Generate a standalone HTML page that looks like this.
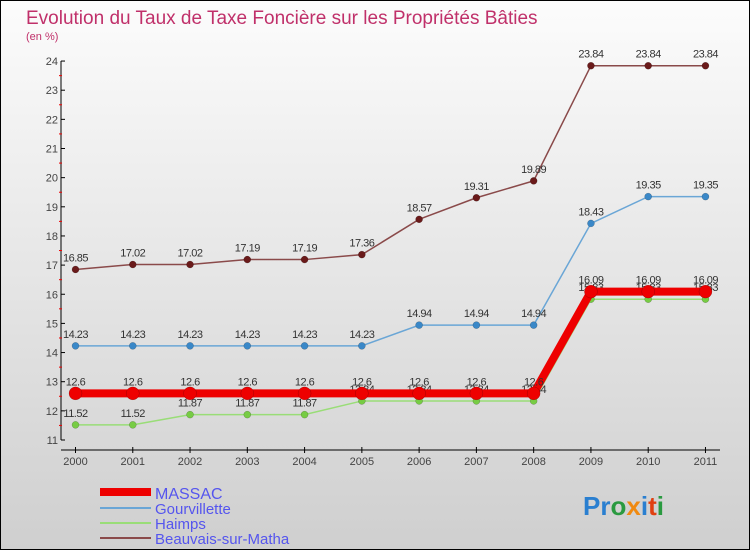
<!DOCTYPE html>
<html><head><meta charset="utf-8"><style>
body{margin:0;}
#c{position:relative;width:748px;height:548px;border:1px solid #000;background:linear-gradient(#fcfcfc,#cfcfcf);font-family:"Liberation Sans",sans-serif;overflow:hidden}
</style></head><body>
<div id="c">
<svg width="748" height="548" viewBox="1 1 748 548" id="svg">
<text x="26" y="24" font-size="19" fill="#c0306a">Evolution du Taux de Taxe Foncière sur les Propriétés Bâties</text>
<text x="26" y="40" font-size="11" fill="#c0306a">(en %)</text>
<g id="axes"></g><g id="series"></g>
<g>
<line x1="100" y1="492" x2="151" y2="492" stroke="#e00" stroke-width="8"/>
<text x="155" y="499" font-size="16" fill="#5555ee">MASSAC</text>
<line x1="100" y1="508" x2="151" y2="508" stroke="#6aa6d6" stroke-width="2"/>
<text x="155" y="514" font-size="15" fill="#5555ee">Gourvillette</text>
<line x1="100" y1="523" x2="151" y2="523" stroke="#99dd77" stroke-width="2"/>
<text x="155" y="529" font-size="15" fill="#5555ee">Haimps</text>
<line x1="100" y1="538" x2="151" y2="538" stroke="#8a4a4a" stroke-width="2"/>
<text x="155" y="544" font-size="15" fill="#5555ee">Beauvais-sur-Matha</text>
</g>
<text x="583" y="515" font-size="26" font-weight="bold"><tspan fill="#2a7fd0">Pr</tspan><tspan fill="#2a9a40">o</tspan><tspan fill="#f08a10">x</tspan><tspan fill="#2a7fd0">i</tspan><tspan fill="#e04010">t</tspan><tspan fill="#2a9a40">i</tspan></text>
</svg>
</div>
<script>
const years=[2000,2001,2002,2003,2004,2005,2006,2007,2008,2009,2010,2011];
const yTicks=[11,12,13,14,15,16,17,18,19,20,21,22,23,24];
const massac=[12.6,12.6,12.6,12.6,12.6,12.6,12.6,12.6,12.6,16.09,16.09,16.09];
const gourvillette=[14.23,14.23,14.23,14.23,14.23,14.23,14.94,14.94,14.94,18.43,19.35,19.35];
const haimps=[11.52,11.52,11.87,11.87,11.87,12.34,12.34,12.34,12.34,15.83,15.83,15.83];
const beauvais=[16.85,17.02,17.02,17.19,17.19,17.36,18.57,19.31,19.89,23.84,23.84,23.84];
const NS="http://www.w3.org/2000/svg";
const X=i=>75.5+i*57.27;
const Y=v=>440-(v-11)*29.15;
function mk(t,a,p){const e=document.createElementNS(NS,t);for(const k in a)e.setAttribute(k,a[k]);p.appendChild(e);return e;}
const ax=document.getElementById('axes');
const yl=mk('line',{x1:61,y1:Y(24),x2:61,y2:Y(11),stroke:'#000'},ax);


const xl=mk('line',{x1:61,y1:450,x2:720,y2:450,stroke:'#000'},ax);


yTicks.forEach((v,i)=>{
  mk('line',{x1:61,y1:Y(v),x2:65,y2:Y(v),stroke:'#000'},ax);
  if(i<yTicks.length-1)mk('line',{x1:59,y1:Y(v+0.5),x2:62,y2:Y(v+0.5),stroke:'#e00'},ax);
  const t=mk('text',{x:58,y:Y(v)+4,'font-size':11,fill:'#444','text-anchor':'end'},ax);t.textContent=v;
  
  
});
years.forEach((y,i)=>{
  mk('line',{x1:X(i),y1:447,x2:X(i),y2:453,stroke:'#000'},ax);
  const t=mk('text',{x:X(i),y:465,'font-size':11,fill:'#444','text-anchor':'middle'},ax);t.textContent=y;
  
  
});
const sg=document.getElementById('series');
function series(data,name,line,dot,w,r){
  const g=mk('g',{},sg);
  
  
  mk('polyline',{points:data.map((v,i)=>X(i)+','+Y(v)).join(' '),fill:'none',stroke:line,'stroke-width':w},g);
  data.forEach((v,i)=>{
    const c=mk('circle',{cx:X(i),cy:Y(v),r:r,fill:dot,stroke:'rgba(0,0,0,0.3)','stroke-width':0.5},g);
    
    
    const t=mk('text',{x:X(i),y:Y(v)-8,'font-size':11,fill:'#333','text-anchor':'middle','letter-spacing':'-0.5'},g);
    t.textContent=String(v);
    
    
  });
}
series(beauvais,'beauvais-series','#8a4a4a','#6a1a1a',1.5,3.5);
series(gourvillette,'gourvillette-series','#6aa6d6','#3a88c8',1.5,3.5);
series(haimps,'haimps-series','#99dd77','#77cc44',1.5,3.5);
series(massac,'massac-series','#e00','#e00',8,6.5);
</script>
</body></html>
